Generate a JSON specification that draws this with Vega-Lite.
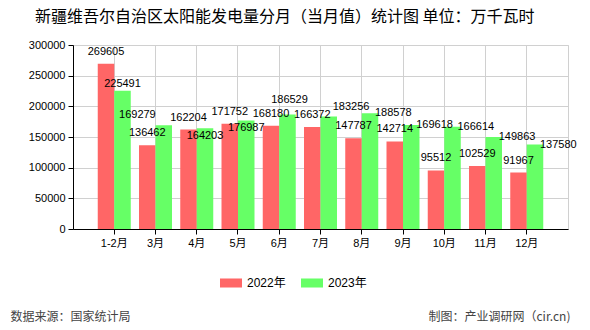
{
  "$schema": "https://vega.github.io/schema/vega-lite/v6.json",
  "width": 495,
  "height": 184,
  "autosize": "none",
  "padding": {"left": 73, "top": 45, "right": 22, "bottom": 101},
  "background": "white",
  "title": {
    "text": "新疆维吾尔自治区太阳能发电量分月（当月值）统计图 单位：万千瓦时",
    "font": "Noto Sans CJK SC",
    "fontSize": 16,
    "fontWeight": "normal",
    "color": "#000000",
    "anchor": "start",
    "frame": "group",
    "dx": -38,
    "offset": 14
  },
  "config": {
    "view": {"stroke": "#d0d0d0", "strokeWidth": 1},
    "axis": {
      "labelFont": "Liberation Sans, Noto Sans CJK SC",
      "labelFontSize": 11,
      "labelColor": "#000000",
      "domainColor": "#000000",
      "tickColor": "#000000",
      "gridColor": "#d0d0d0",
      "titleFont": "Noto Sans CJK SC",
      "titleFontSize": 12,
      "titleFontWeight": "normal",
      "titleColor": "#444444"
    },
    "text": {"font": "Liberation Sans", "fontSize": 11, "color": "#000000", "baseline": "middle"}
  },
  "data": {
    "values": [
      {"month": "1-2月", "year": "2022年", "value": 269605},
      {"month": "3月", "year": "2022年", "value": 136462},
      {"month": "4月", "year": "2022年", "value": 162204},
      {"month": "5月", "year": "2022年", "value": 171752},
      {"month": "6月", "year": "2022年", "value": 168180},
      {"month": "7月", "year": "2022年", "value": 166372},
      {"month": "8月", "year": "2022年", "value": 147787},
      {"month": "9月", "year": "2022年", "value": 142714},
      {"month": "10月", "year": "2022年", "value": 95512},
      {"month": "11月", "year": "2022年", "value": 102529},
      {"month": "12月", "year": "2022年", "value": 91967},
      {"month": "1-2月", "year": "2023年", "value": 225491},
      {"month": "3月", "year": "2023年", "value": 169279},
      {"month": "4月", "year": "2023年", "value": 164203},
      {"month": "5月", "year": "2023年", "value": 176987},
      {"month": "6月", "year": "2023年", "value": 186529},
      {"month": "7月", "year": "2023年", "value": 183256},
      {"month": "8月", "year": "2023年", "value": 188578},
      {"month": "9月", "year": "2023年", "value": 169618},
      {"month": "10月", "year": "2023年", "value": 166614},
      {"month": "11月", "year": "2023年", "value": 149863},
      {"month": "12月", "year": "2023年", "value": 137580}
    ]
  },
  "encoding": {
    "x": {
      "field": "month",
      "type": "nominal",
      "sort": ["1-2月", "3月", "4月", "5月", "6月", "7月", "8月", "9月", "10月", "11月", "12月"],
      "scale": {"paddingInner": 0.2, "paddingOuter": 0.6},
      "axis": {
        "title": "制图：产业调研网（cir.cn)",
        "titleAnchor": "end",
        "titleAlign": "right",
        "titleBaseline": "middle",
        "titleX": 497,
        "titleY": 87,
        "labelAngle": 0,
        "grid": true,
        "bandPosition": 0.5,
        "tickSize": 5,
        "labelPadding": 3
      }
    },
    "xOffset": {
      "field": "year",
      "type": "nominal",
      "scale": {"domain": ["2022年", "2023年"], "paddingInner": 0, "paddingOuter": 0}
    },
    "y": {
      "field": "value",
      "type": "quantitative",
      "scale": {"domain": [0, 300000], "nice": false},
      "axis": {
        "title": "数据来源：国家统计局",
        "titleAngle": 0,
        "titleAlign": "left",
        "titleBaseline": "middle",
        "titleX": -63,
        "titleY": 271,
        "values": [0, 50000, 100000, 150000, 200000, 250000, 300000],
        "format": "d",
        "grid": true,
        "tickSize": 5,
        "labelPadding": 3
      }
    },
    "text": {"field": "value", "type": "quantitative", "format": "d"}
  },
  "layer": [
    {
      "mark": {"type": "bar"},
      "encoding": {
        "text": null,
        "color": {
          "field": "year",
          "type": "nominal",
          "scale": {"domain": ["2022年", "2023年"], "range": ["#FF6666", "#66FF66"]},
          "legend": {
            "title": null,
            "orient": "none",
            "legendX": 147,
            "legendY": 227,
            "direction": "horizontal",
            "symbolType": "M-1,-0.41h2v0.82h-2z",
            "symbolSize": 484,
            "symbolStrokeWidth": 0,
            "symbolOpacity": 1,
            "labelFont": "Liberation Sans, Noto Sans CJK SC",
            "labelFontSize": 12,
            "labelColor": "#000000",
            "labelOffset": 5,
            "columnPadding": 15
          }
        }
      }
    },
    {
      "transform": [{"filter": "datum.year === '2022年'"}],
      "mark": {"type": "text", "dy": -12}
    },
    {
      "transform": [{"filter": {"and": [{"field": "year", "equal": "2023年"}, {"field": "month", "oneOf": ["1-2月"]}]}}],
      "mark": {"type": "text", "dy": -7}
    },
    {
      "transform": [{"filter": {"and": [{"field": "year", "equal": "2023年"}, {"field": "month", "oneOf": ["6月"]}]}}],
      "mark": {"type": "text", "dy": -15, "dx": 2}
    },
    {
      "transform": [{"filter": {"and": [{"field": "year", "equal": "2023年"}, {"field": "month", "oneOf": ["3月"]}]}}],
      "mark": {"type": "text", "dy": -10, "dx": -8, "align": "right"}
    },
    {
      "transform": [{"filter": {"and": [{"field": "year", "equal": "2023年"}, {"field": "month", "oneOf": ["4月", "5月"]}]}}],
      "mark": {"type": "text", "dy": 8}
    },
    {
      "transform": [{"filter": {"and": [{"field": "year", "equal": "2023年"}, {"field": "month", "oneOf": ["7月"]}]}}],
      "mark": {"type": "text", "dy": -10, "dx": 4, "align": "left"}
    },
    {
      "transform": [{"filter": {"and": [{"field": "year", "equal": "2023年"}, {"field": "month", "oneOf": ["8月", "9月", "10月", "11月", "12月"]}]}}],
      "mark": {"type": "text", "dy": 0, "dx": 5, "align": "left"}
    }
  ]
}
